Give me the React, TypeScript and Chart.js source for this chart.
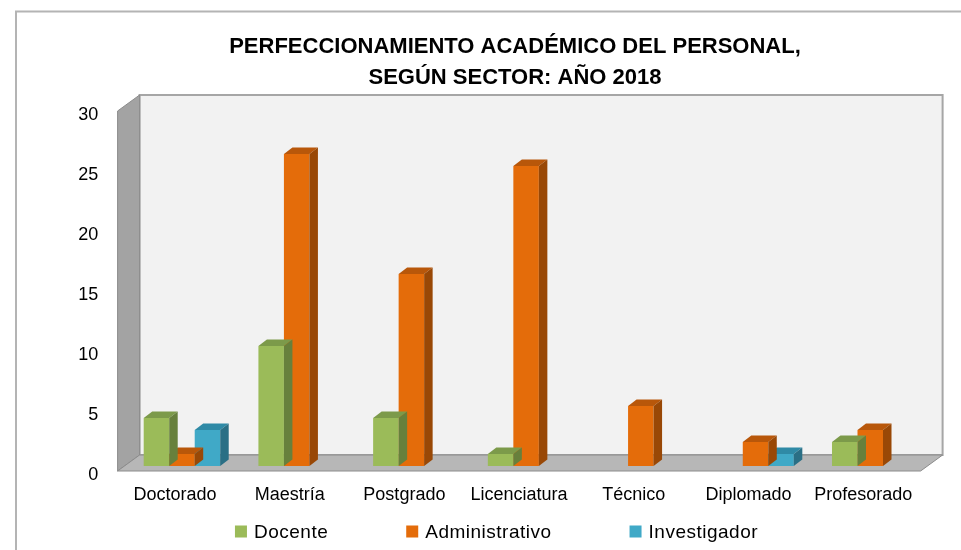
import React, { useEffect, useRef } from "react";
import { Chart, registerables } from "chart.js";

Chart.register(...registerables);

// ---- data ----
const categories = ["Doctorado", "Maestría", "Postgrado", "Licenciatura", "Técnico", "Diplomado", "Profesorado"];
const docente = [4, 10, 4, 1, 0, 0, 2];
const administrativo = [1, 26, 16, 25, 5, 2, 3];
const investigador = [3, 0, 0, 0, 0, 1, 0];
const seriesNames = ["Docente", "Administrativo", "Investigador"];
const titleLines = ["PERFECCIONAMIENTO ACADÉMICO DEL PERSONAL,", "SEGÚN SECTOR: AÑO 2018"];
const yMin = 0;
const yMax = 30;
const yStep = 5;

// ---- styles ----
const FONT = '"Liberation Sans", Arial, sans-serif';
const frontColors = ["#9bbb59", "#e46c0a", "#40a9c7"];
const topColors = ["#7c9a4a", "#b8570a", "#2f8aa6"];
const sideColors = ["#67803c", "#994806", "#2a6f85"];
const BAR_DEPTH = { dx: 8.5, dy: 6.5 };
const FRONT_OFF = { dx: -7, dy: 5 };
const BACK_OFF = { dx: 15, dy: -11 };

function poly(ctx: CanvasRenderingContext2D, pts: number[][], fill: string, stroke?: string, lw = 1) {
  ctx.beginPath();
  ctx.moveTo(pts[0][0], pts[0][1]);
  for (let i = 1; i < pts.length; i++) ctx.lineTo(pts[i][0], pts[i][1]);
  ctx.closePath();
  ctx.fillStyle = fill;
  ctx.fill();
  if (stroke) {
    ctx.strokeStyle = stroke;
    ctx.lineWidth = lw;
    ctx.stroke();
  }
}

const threeD = {
  id: "threeD",
  beforeDraw(chart: any) {
    const ctx = chart.ctx as CanvasRenderingContext2D;
    ctx.save();
    ctx.fillStyle = "#ffffff";
    ctx.fillRect(0, 0, chart.width, chart.height);
    ctx.strokeStyle = "#b4b4b4";
    ctx.lineWidth = 2;
    ctx.strokeRect(16, 11.5, chart.width + 20, chart.height + 20);
    ctx.restore();
  },
  beforeDatasetsDraw(chart: any) {
    const ctx = chart.ctx as CanvasRenderingContext2D;
    const { left: L, right: R, top: T, bottom: B } = chart.chartArea;
    ctx.save();
    // back wall
    poly(
      ctx,
      [
        [L + BACK_OFF.dx, T + BACK_OFF.dy],
        [R + BACK_OFF.dx, T + BACK_OFF.dy],
        [R + BACK_OFF.dx, B + BACK_OFF.dy],
        [L + BACK_OFF.dx, B + BACK_OFF.dy],
      ],
      "#f2f2f2",
      "#a6a6a6",
      2
    );
    // side wall
    poly(
      ctx,
      [
        [L + FRONT_OFF.dx, T + FRONT_OFF.dy],
        [L + BACK_OFF.dx, T + BACK_OFF.dy],
        [L + BACK_OFF.dx, B + BACK_OFF.dy],
        [L + FRONT_OFF.dx, B + FRONT_OFF.dy],
      ],
      "#a3a3a3",
      "#8c8c8c",
      1
    );
    // floor
    poly(
      ctx,
      [
        [L + FRONT_OFF.dx, B + FRONT_OFF.dy],
        [R + FRONT_OFF.dx, B + FRONT_OFF.dy],
        [R + BACK_OFF.dx, B + BACK_OFF.dy],
        [L + BACK_OFF.dx, B + BACK_OFF.dy],
      ],
      "#b7b7b7",
      "#8c8c8c",
      1
    );
    ctx.restore();
  },
  afterDatasetDraw(chart: any, args: any) {
    const ctx = chart.ctx as CanvasRenderingContext2D;
    const i = args.index;
    const meta = args.meta;
    const values = chart.data.datasets[i].data;
    ctx.save();
    meta.data.forEach((bar: any, j: number) => {
      const v = values[j];
      if (!v) return;
      const { x, y, base, width } = bar.getProps(["x", "y", "base", "width"], true);
      const l = x - width / 2;
      const r = x + width / 2;
      const { dx, dy } = BAR_DEPTH;
      poly(ctx, [[l, y], [r, y], [r + dx, y - dy], [l + dx, y - dy]], topColors[i]);
      poly(ctx, [[r, y], [r + dx, y - dy], [r + dx, base - dy], [r, base]], sideColors[i]);
    });
    ctx.restore();
  },
  afterDraw(chart: any) {
    const ctx = chart.ctx as CanvasRenderingContext2D;
    ctx.save();
    ctx.font = `19px ${FONT}`;
    (ctx as any).letterSpacing = "0.5px";
    ctx.textBaseline = "middle";
    ctx.textAlign = "left";
    const box = 12;
    const gapText = 7;
    const gapItem = 78;
    const items = chart.data.datasets.map((d: any, i: number) => ({
      text: d.label,
      color: frontColors[i],
      w: box + gapText + ctx.measureText(d.label).width,
    }));
    const total = items.reduce((s: number, it: any) => s + it.w, 0) + gapItem * (items.length - 1);
    let x = 496.5 - total / 2;
    const cy = 531.5;
    items.forEach((it: any) => {
      ctx.fillStyle = it.color;
      ctx.fillRect(x, cy - 6, box, box);
      ctx.fillStyle = "#000";
      ctx.fillText(it.text, x + box + gapText, cy + 1);
      x += it.w + gapItem;
    });
    ctx.restore();
  },
};

export default function App() {
  const ref = useRef<HTMLCanvasElement | null>(null);
  useEffect(() => {
    if (!ref.current) return;
    const seriesData = [docente, administrativo, investigador];
    const chart = new Chart(ref.current, {
      type: "bar",
      data: {
        labels: categories,
        datasets: seriesNames.map((name, i) => ({
          label: name,
          data: seriesData[i],
          backgroundColor: frontColors[i],
          borderWidth: 0,
          categoryPercentage: 0.667,
          barPercentage: 1,
        })),
      },
      options: {
        responsive: false,
        animation: false,
        events: [],
        layout: { padding: { left: 69, right: 0, top: 0, bottom: 0 } },
        plugins: {
          legend: { display: false },
          tooltip: { enabled: false },
          title: {
            display: true,
            text: titleLines,
            color: "#000",
            font: { family: FONT, size: 22, weight: "bold", lineHeight: 31 / 22 },
            padding: { top: 31.5, bottom: 12.5 },
          },
        },
        scales: {
          x: {
            grid: { display: false, drawTicks: false },
            border: { display: false },
            ticks: {
              color: "#000",
              font: { family: FONT, size: 18 },
              padding: 18,
              labelOffset: -7,
              maxRotation: 0,
              autoSkip: false,
            },
            afterFit: (scale: any) => {
              scale.height = 84;
            },
          },
          y: {
            min: yMin,
            max: yMax,
            grid: { display: false, drawTicks: false },
            border: { display: false },
            ticks: {
              stepSize: yStep,
              color: "#000",
              font: { family: FONT, size: 18 },
              padding: 26.3,
              labelOffset: 9.5,
            },
            afterFit: (scale: any) => {
              scale.width = 55.6;
            },
          },
          yRight: {
            position: "right",
            display: true,
            grid: { display: false, drawTicks: false },
            border: { display: false },
            ticks: { display: false },
            afterFit: (scale: any) => {
              scale.width = 33.4;
            },
          },
        },
      },
      plugins: [threeD],
    });
    return () => chart.destroy();
  }, []);

  return (
    <div style={{ position: "absolute", left: 0, top: 0, width: 961, height: 550, overflow: "hidden" }}>
      <canvas ref={ref} width={961} height={550} style={{ display: "block" }} />
    </div>
  );
}
